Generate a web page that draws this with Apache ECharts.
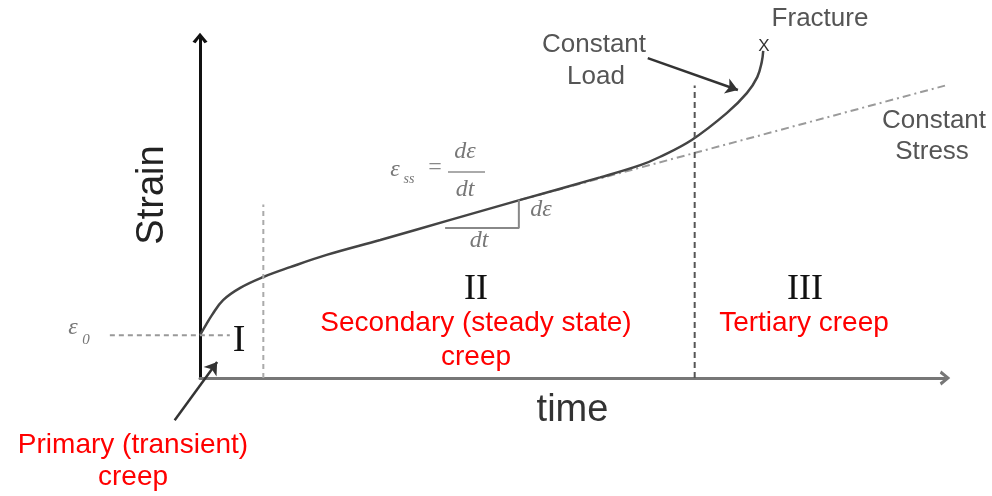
<!DOCTYPE html>
<html>
<head>
<meta charset="utf-8">
<script src="https://cdn.jsdelivr.net/npm/echarts@6/dist/echarts.min.js"></script>
<style>
  html, body { margin: 0; padding: 0; background: #fff; }
  #main { width: 992px; height: 496px; }
</style>
</head>
<body>
<div id="main"></div>
<script>
// creep curve, [time, strain] in arbitrary units (axes 0..10)
var creepCurve = [
  [0, 1.26], [0.08, 1.56], [0.16, 1.85], [0.31, 2.29], [0.54, 2.65],
  [0.85, 2.97], [1.21, 3.26], [1.70, 3.62], [2.42, 4.06], [3.36, 4.65],
  [4.30, 5.24], [5.37, 5.90], [5.91, 6.26], [6.17, 6.50], [6.60, 7.00],
  [7.07, 7.79], [7.34, 8.38], [7.48, 8.85], [7.54, 9.29], [7.56, 9.62]
];
// constant stress continuation (dash-dot)
var constStress = [[4.30, 5.24], [10.0, 8.60]];
// stage boundaries
var stage1End = [[0.85, 0], [0.85, 5.10]];
var stage2End = [[6.64, 0], [6.64, 8.60]];
// initial strain level
var eps0Line = [[-1.21, 1.26], [0.40, 1.26]];
// slope triangle
var slopeTri = [[3.29, 4.41], [4.28, 4.41], [4.28, 5.24]];
// annotation arrows [from, to]
var loadArrow = [[6.01, 9.41], [7.22, 8.47]];
var primaryArrow = [[-0.34, -1.24], [0.23, 0.47]];

var myChart = echarts.init(document.getElementById('main'));

var sans = 'Liberation Sans, Arial, sans-serif';
var serif = 'Liberation Serif, Times New Roman, serif';
var chevron = 'path://M0,12 L10,0 L20,12 L16,14 L10,6 L4,14 Z';

function txt(text, x, y, size, color, font, extra) {
    var st = {
        text: text, x: x, y: y,
        fontSize: size, fill: color,
        fontFamily: font || sans,
        textAlign: 'center', textVerticalAlign: 'middle'
    };
    if (extra) { for (var k in extra) st[k] = extra[k]; }
    return { type: 'text', style: st, z: 100 };
}

var hiddenAxis = {
    show: false, type: 'value',
    axisLine: { show: false }, axisTick: { show: false },
    axisLabel: { show: false }, splitLine: { show: false }
};

var option = {
    animation: false,
    grid: [
        { left: 200, right: 47, top: 38, bottom: 118 },
        // same scale, full canvas: for marks left of / below the axes
        { left: 0, right: 0, top: 0, bottom: 0 }
    ],
    xAxis: [{
        type: 'value', min: 0, max: 10,
        name: 'time', nameLocation: 'middle', nameGap: 14,
        nameTextStyle: { fontSize: 38, color: '#333', fontFamily: sans },
        axisLine: { show: true, symbol: ['none', chevron], symbolSize: [15, 12],
            lineStyle: { color: '#777', width: 3 } },
        axisTick: { show: false },
        axisLabel: { show: false },
        splitLine: { show: false }
    }, Object.assign({ gridIndex: 1, min: -200 / 74.5, max: 792 / 74.5 }, hiddenAxis)],
    yAxis: [{
        type: 'value', min: 0, max: 10,
        name: 'Strain', nameLocation: 'middle', nameGap: 28, nameRotate: 90,
        nameTextStyle: { fontSize: 38, color: '#222', fontFamily: sans, padding: [0, 0, 0, 26] },
        axisLine: { show: true, symbol: ['none', chevron], symbolSize: [15, 12],
            lineStyle: { color: '#111', width: 3 } },
        axisTick: { show: false },
        axisLabel: { show: false },
        splitLine: { show: false }
    }, Object.assign({ gridIndex: 1, min: -118 / 34, max: 378 / 34 }, hiddenAxis)],
    series: [
        {
            name: 'stress', type: 'line', data: constStress, symbol: 'none',
            lineStyle: { color: '#9a9a9a', width: 2, type: [8, 4, 2, 4] }, z: 2
        },
        {
            name: 'creep', type: 'line', data: creepCurve, symbol: 'none', smooth: 0.4,
            lineStyle: { color: '#444', width: 2.5 }, z: 3
        },
        {
            name: 'b1', type: 'line', data: stage1End, symbol: 'none',
            lineStyle: { color: '#aaa', width: 2, type: [5, 4] }
        },
        {
            name: 'b2', type: 'line', data: stage2End, symbol: 'none',
            lineStyle: { color: '#555', width: 2, type: [6, 4] }
        },
        {
            name: 'eps0', type: 'line', data: eps0Line, symbol: 'none',
            xAxisIndex: 1, yAxisIndex: 1,
            lineStyle: { color: '#999', width: 2, type: [5, 4] }
        },
        {
            name: 'tri', type: 'line', data: slopeTri, symbol: 'none',
            lineStyle: { color: '#888', width: 2 }
        },
        {
            name: 'arrows', type: 'line', data: [],
            xAxisIndex: 1, yAxisIndex: 1,
            markLine: {
                silent: true, symbol: ['none', 'arrow'], symbolSize: 12,
                label: { show: false },
                lineStyle: { color: '#333', width: 2.5, type: 'solid' },
                data: [
                    [{ coord: loadArrow[0] }, { coord: loadArrow[1] }],
                    [{ coord: primaryArrow[0] }, { coord: primaryArrow[1] }]
                ]
            }
        }
    ],
    graphic: [
        txt('Fracture', 820, 19, 26, '#555'),
        txt('X', 764, 46, 17, '#333'),
        txt('Constant', 594, 45, 26, '#555'),
        txt('Load', 596, 77, 26, '#555'),
        txt('Constant', 934, 121, 26, '#555'),
        txt('Stress', 932, 152, 26, '#555'),
        txt('I', 239, 341, 38, '#111', serif),
        txt('II', 476, 290, 36, '#111', serif),
        txt('III', 805, 290, 36, '#111', serif),
        txt('Secondary (steady state)', 476, 323, 28, '#ff0000'),
        txt('creep', 476, 357, 28, '#ff0000'),
        txt('Tertiary creep', 804, 323, 28, '#ff0000'),
        txt('Primary (transient)', 133, 445, 28, '#ff0000'),
        txt('creep', 133, 477, 28, '#ff0000'),
        // strain symbols
        txt('ε', 73, 328, 24, '#777', serif, { fontStyle: 'italic' }),
        txt('0', 86, 340, 15, '#777', serif, { fontStyle: 'italic' }),
        txt('ε', 395, 170, 24, '#777', serif, { fontStyle: 'italic' }),
        txt('ss', 409, 179, 14, '#777', serif, { fontStyle: 'italic' }),
        txt('=', 435, 168, 24, '#888', serif),
        txt('dε', 465, 152, 24, '#777', serif, { fontStyle: 'italic' }),
        { type: 'line', shape: { x1: 448, y1: 172, x2: 485, y2: 172 },
          style: { stroke: '#aaa', lineWidth: 2 }, z: 100 },
        txt('dt', 465, 190, 24, '#777', serif, { fontStyle: 'italic' }),
        txt('dε', 541, 210, 24, '#777', serif, { fontStyle: 'italic' }),
        txt('dt', 479, 241, 24, '#777', serif, { fontStyle: 'italic' })
    ]
};
myChart.setOption(option);
</script>
</body>
</html>
